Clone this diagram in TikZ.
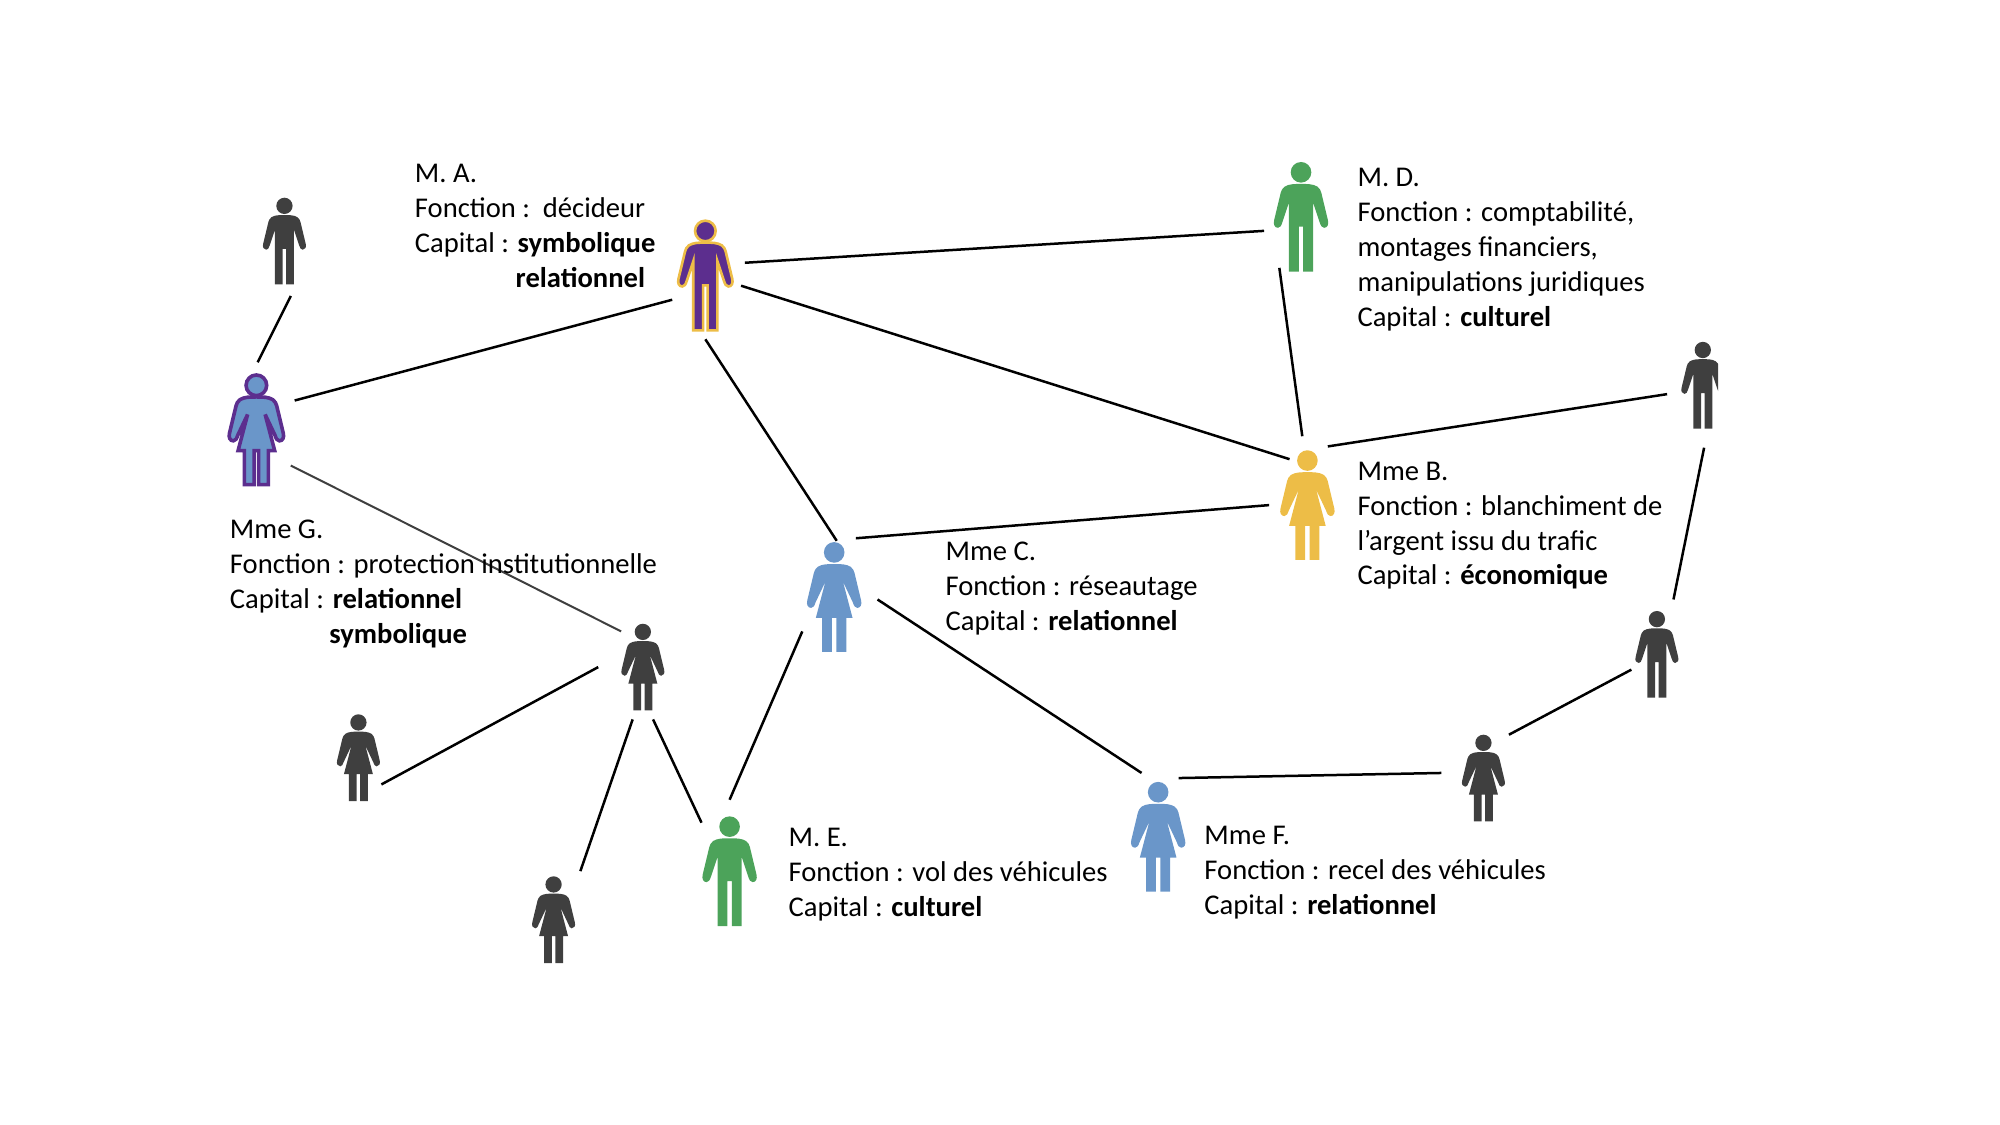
\documentclass[tikz,border=0pt]{standalone}
\usepackage{fontspec}
\setmainfont{Carlito}
\definecolor{figdark}{HTML}{3F3F3F}
\definecolor{figblue}{HTML}{6A96C9}
\definecolor{figgreen}{HTML}{4CA35A}
\definecolor{figgold}{HTML}{EDBD47}
\definecolor{figpurple}{HTML}{5C2E8E}
\tikzset{
	man/.pic={
			\path[pic actions] (0,-40.6) circle[radius=9.4];
			\path[pic actions] (0,-30) .. controls (6,-30) and (11,-30) .. (15,-27.5) .. controls (17,-26) and (18,-24) .. (18.5,-22) -- (24.5,3) .. controls (25.5,7) and (24,10) .. (21,10) .. controls (19,10) and (18,8) .. (17,5) -- (11,-13) -- (11,50) -- (2,50) -- (2,9) -- (-2,9) -- (-2,50) -- (-11,50) -- (-11,-13) -- (-17,5) .. controls (-18,8) and (-19,10) .. (-21,10) .. controls (-24,10) and (-25.5,7) .. (-24.5,3) -- (-18.5,-22) .. controls (-18,-24) and (-17,-26) .. (-15,-27.5) .. controls (-11,-30) and (-6,-30) .. (0,-30) -- cycle;
		},
	woman/.pic={
			\path[pic actions] (0,-40.6) circle[radius=9.4];
			\path[pic actions] (0,-30) .. controls (6,-30) and (11,-30) .. (15,-27.5) .. controls (17,-26) and (18,-24) .. (18.5,-22) -- (24.5,3) .. controls (25.5,7) and (24,10) .. (21,10) .. controls (19,10) and (18,8) .. (17,5) -- (8,-14) -- (16.7,19) -- (11,19) -- (11,50) -- (2,50) -- (2,19) -- (-2,19) -- (-2,50) -- (-11,50) -- (-11,19) -- (-16.7,19) -- (-8,-14) -- (-17,5) .. controls (-18,8) and (-19,10) .. (-21,10) .. controls (-24,10) and (-25.5,7) .. (-24.5,3) -- (-18.5,-22) .. controls (-18,-24) and (-17,-26) .. (-15,-27.5) .. controls (-11,-30) and (-6,-30) .. (0,-30) -- cycle;
		},
	person/.style={inner sep=0pt, minimum width=28pt, minimum height=55pt},
	smallperson/.style={inner sep=0pt, minimum width=22pt, minimum height=43pt},
	bigfig/.style={scale=.86},
	smallfig/.style={scale=.68, fill=figdark},
	link/.style={draw=black, line width=1.25pt},
	infotext/.style={anchor=north west, inner sep=0pt, align=left, font=\fontsize{14.3}{17.5}\selectfont},
}
\begin{document}
\begin{tikzpicture}[x=0.6378pt, y=-0.6378pt]
	\useasboundingbox (0,0) rectangle (1568,882);

	\node[person] (ma) at (553,216) {};
	\node[person] (mb) at (1025,396) {};
	\node[person] (mc) at (654,468) {};
	\node[person] (md) at (1020,170) {};
	\node[person] (me) at (572,683) {};
	\node[person] (mf) at (908,656) {};
	\node[person] (mg) at (201,337) {};
	\node[smallperson] (hautg) at (223,189) {};
	\node[smallperson] (droit) at (1335,302) {};
	\node[smallperson] (basd) at (1299,513) {};
	\node[smallperson] (femc) at (504,523) {};
	\node[smallperson] (femg) at (281,594) {};
	\node[smallperson] (femb) at (434,721) {};
	\node[smallperson] (femd) at (1163,610) {};

	\pic[bigfig, fill=figpurple, draw=figgold, line width=1.3pt] at (ma) {man};
	\pic[bigfig, fill=figgold] at (mb) {woman};
	\pic[bigfig, fill=figblue] at (mc) {woman};
	\pic[bigfig, fill=figgreen] at (md) {man};
	\pic[bigfig, fill=figgreen] at (me) {man};
	\pic[bigfig, fill=figblue] at (mf) {woman};
	\pic[bigfig, fill=figblue, draw=figpurple, line width=1.8pt] at (mg) {woman};
	\pic[smallfig] at (hautg) {man};
	\pic[smallfig] at (basd) {man};
	\pic[smallfig] at (femc) {woman};
	\pic[smallfig] at (femg) {woman};
	\pic[smallfig] at (femb) {woman};
	\pic[smallfig] at (femd) {woman};
	\begin{scope}
		\clip (1300,260) rectangle (1347,345);
		\pic[smallfig] at (droit) {man};
	\end{scope}

	\draw[link] ([shift={(5,43)}]hautg.center) -- ([shift={(1,-53)}]mg.center);
	\draw[link] ([shift={(30,-23)}]mg.center) -- ([shift={(-26,19)}]ma.center);
	\draw[link] ([shift={(31,-10)}]ma.center) -- ([shift={(-29,11)}]md.center);
	\draw[link] ([shift={(28,8)}]ma.center) -- ([shift={(-14,-36)}]mb.center);
	\draw[link] ([shift={(0,50)}]ma.center) -- ([shift={(2,-44)}]mc.center);
	\draw[link] ([shift={(-17,40)}]md.center) -- ([shift={(-4,-54)}]mb.center);
	\draw[link] ([shift={(16,-46)}]mb.center) -- ([shift={(-28,7)}]droit.center);
	\draw[link] ([shift={(17,-46)}]mc.center) -- ([shift={(-30,0)}]mb.center);
	\draw[link, draw=figdark, line width=1pt] ([shift={(27,28)}]mg.center) -- ([shift={(-17,-28)}]femc.center);
	\draw[link] ([shift={(-35,0)}]femc.center) -- ([shift={(18,21)}]femg.center);
	\draw[link] ([shift={(-8,41)}]femc.center) -- ([shift={(21,-38)}]femb.center);
	\draw[link] ([shift={(8,41)}]femc.center) -- ([shift={(-22,-38)}]me.center);
	\draw[link] ([shift={(-25,27)}]mc.center) -- ([shift={(0,-56)}]me.center);
	\draw[link] ([shift={(34,2)}]mc.center) -- ([shift={(-13,-50)}]mf.center);
	\draw[link] ([shift={(16,-46)}]mf.center) -- ([shift={(-33,-4)}]femd.center);
	\draw[link] ([shift={(20,-34)}]femd.center) -- ([shift={(-20,12)}]basd.center);
	\draw[link] ([shift={(13,-43)}]basd.center) -- ([shift={(1,49)}]droit.center);

	\node[infotext] (txta) at (325,123.8) {\strut M. A.\\Fonction :\ \ décideur\\Capital : \textbf{symbolique}\\\hspace*{50.4pt}\textbf{relationnel}};
	\node[infotext] (txtb) at (1064,356.8) {\strut Mme B.\\Fonction : blanchiment de\\l’argent issu du trafic\\Capital : \textbf{économique}};
	\node[infotext] (txtc) at (741,419.8) {\strut Mme C.\\Fonction : réseautage\\Capital : \textbf{relationnel}};
	\node[infotext] (txtd) at (1064,126.8) {\strut M. D.\\Fonction : comptabilité,\\montages financiers,\\manipulations juridiques\\Capital : \textbf{culturel}};
	\node[infotext] (txte) at (618,643.8) {\strut M. E.\\Fonction : vol des véhicules\\Capital : \textbf{culturel}};
	\node[infotext] (txtf) at (944,642.8) {\strut Mme F.\\Fonction : recel des véhicules\\Capital : \textbf{relationnel}};
	\node[infotext] (txtg) at (180,402.8) {\strut Mme G.\\Fonction : protection institutionnelle\\Capital : \textbf{relationnel}\\\hspace*{49.7pt}\textbf{symbolique}};
\end{tikzpicture}
\end{document}
